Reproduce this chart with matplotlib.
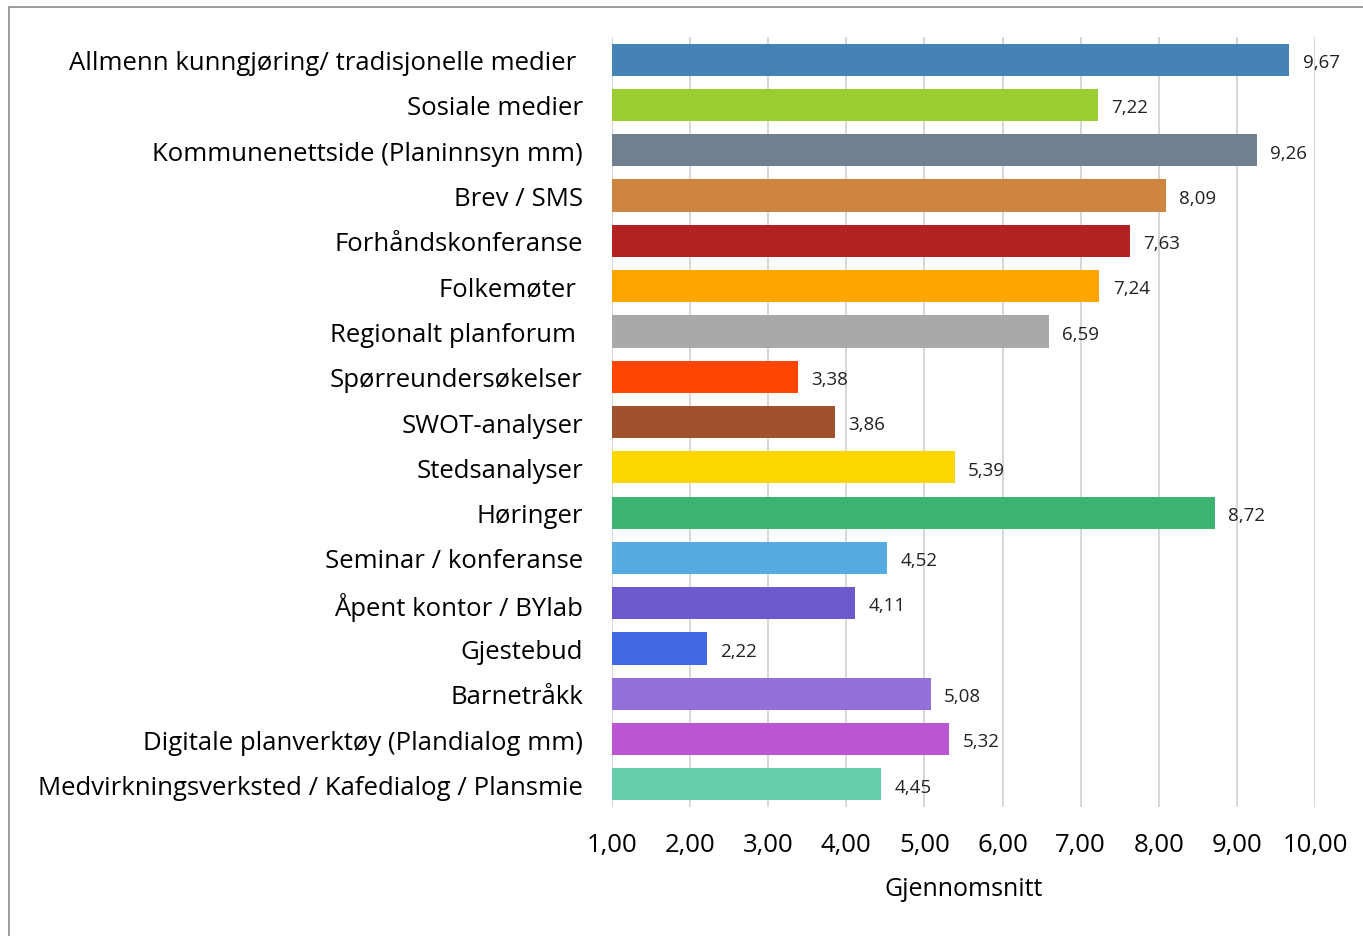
import numpy as np
import matplotlib.pyplot as plt
from matplotlib.patches import Rectangle

categories = [
    "Allmenn kunngjøring/ tradisjonelle medier ",
    "Sosiale medier",
    "Kommunenettside (Planinnsyn mm)",
    "Brev / SMS",
    "Forhåndskonferanse",
    "Folkemøter ",
    "Regionalt planforum ",
    "Spørreundersøkelser",
    "SWOT-analyser",
    "Stedsanalyser",
    "Høringer",
    "Seminar / konferanse",
    "Åpent kontor / BYlab",
    "Gjestebud",
    "Barnetråkk",
    "Digitale planverktøy (Plandialog mm)",
    "Medvirkningsverksted / Kafedialog / Plansmie",
]
values = [9.67, 7.22, 9.26, 8.09, 7.63, 7.24, 6.59, 3.38, 3.86, 5.39,
          8.72, 4.52, 4.11, 2.22, 5.08, 5.32, 4.45]
colors = ["#4682B4", "#9ACD32", "#708090", "#CD853F", "#B22222", "#FFA500",
          "#A9A9A9", "#FF4500", "#A0522D", "#FFD700", "#3CB371", "#56ACE0",
          "#6A5ACD", "#4169E1", "#9370DB", "#BA55D3", "#66CDAA"]
ticks = [1, 2, 3, 4, 5, 6, 7, 8, 9, 10]

plt.rcParams['font.family'] = ['Open Sans', 'DejaVu Sans']

fig = plt.figure(figsize=(13.63, 9.37), dpi=100)
ax = fig.add_axes([0.449, 0.1377, 0.5158, 0.8217])

# outer frame like the Excel chart area
fig.patches.append(Rectangle((0.0066, -0.01), 1.2, 1.0015,
                             transform=fig.transFigure, fill=False,
                             edgecolor="#8c8c8c", linewidth=1.2))

y = np.arange(len(categories))
ax.barh(y, np.array(values) - 1, left=1, height=0.71, color=colors, zorder=3)

for yi, v in zip(y, values):
    ax.text(v + 0.17, yi + 0.05, f"{v:.2f}".replace(".", ","), va="center", ha="left",
            fontsize=13.5, color="#222222")

ax.set_xlim(1, 10)
ax.set_ylim(len(categories) - 0.5, -0.5)
ax.set_xticks(ticks)
ax.set_xticklabels([f"{t:.2f}".replace(".", ",") for t in ticks], fontsize=18.5)
ax.set_yticks(y)
ax.set_yticklabels(categories, fontsize=18.5)
ax.tick_params(axis="both", length=0)
ax.tick_params(axis="x", pad=18)
ax.tick_params(axis="y", pad=21)
ax.grid(axis="x", color="#d0d0d0", linewidth=1.2, zorder=0)
for s in ax.spines.values():
    s.set_visible(False)
ax.set_xlabel("Gjennomsnitt", fontsize=18, labelpad=14)

plt.savefig("out.png", dpi=100)
